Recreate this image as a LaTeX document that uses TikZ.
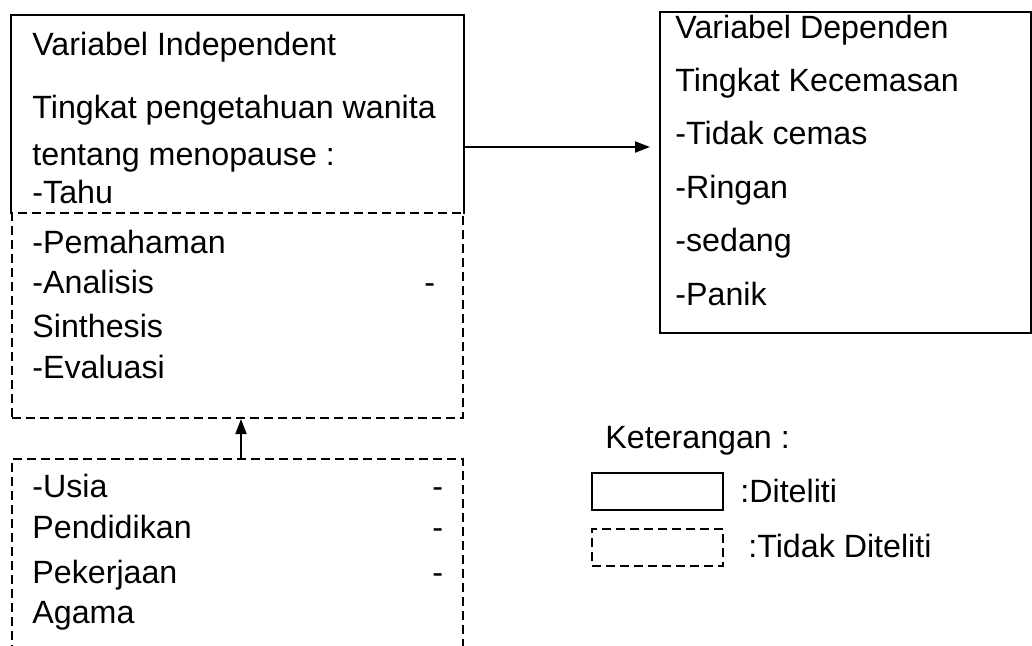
\documentclass[tikz,border=0pt]{standalone}
\usepackage{fontspec}
\setmainfont{Liberation Sans}
\usetikzlibrary{arrows.meta}

\tikzset{
  frame/.style={line width=1pt, anchor=north west, inner sep=0pt},
  solidbox/.style={frame, draw},
  dashbox/.style={frame, draw, dash pattern=on 4.5pt off 2.5pt},
  txt/.style={anchor=base west, inner sep=0pt, font=\fontsize{16.1}{19}\selectfont},
  arr/.style={line width=1pt, -{Triangle[length=7.5pt,width=5.5pt]}},
}

\begin{document}
\begin{tikzpicture}[x=0.5pt,y=-0.5pt]
		%%%%% START %%%%%
		\clip (0,0) rectangle (1032,645);
		
		% boxes
		\node[frame, minimum width=225.5pt, minimum height=98.5pt] (indep) at (11,15) {};
		\draw[line width=1pt] (indep.south west) -- (indep.north west) -- (indep.north east) -- (indep.south east);
		\node[dashbox, minimum width=225.5pt, minimum height=102.5pt] (tahu) at (11,212) {};
		\node[dashbox, minimum width=225.5pt, minimum height=121pt] (factor) at (11,458) {};
		\node[solidbox, minimum width=185.5pt, minimum height=160.5pt] (dep) at (659,11) {};
		
		% arrows
		\coordinate (ay) at (0,147);
		\draw[arr] (indep.east |- ay) -- ([xshift=-4.5pt]dep.west |- ay);
		\draw[arr] ([xshift=1.75pt]factor.north) -- ([xshift=1.75pt]tahu.south);
		
		% independent
		\node[txt] (i1) at (32,55) {Variabel Independent};
		\node[txt] (i2) at (32,118) {Tingkat pengetahuan wanita};
		\node[txt] (i3) at (32,165) {tentang menopause :};
		\node[txt] (i4) at (32,203) {-Tahu};
		
		\node[txt] (p1) at (32,253) {-Pemahaman};
		\node[txt] (p2) at (32,293) {-Analisis};
		\node[txt] (p2d) at (424,293) {-};
		\node[txt] (p3) at (32,337) {Sinthesis};
		\node[txt] (p4) at (32,378) {-Evaluasi};
		
		\node[txt] (f1) at (32,497) {-Usia};
		\node[txt] (f1d) at (432,497) {-};
		\node[txt] (f2) at (32,538) {Pendidikan};
		\node[txt] (f2d) at (432,538) {-};
		\node[txt] (f3) at (32,583) {Pekerjaan};
		\node[txt] (f3d) at (432,583) {-};
		\node[txt] (f4) at (32,623) {Agama};
		
		% dependent
		\foreach \t [count=\i] in {Variabel Dependen, Tingkat Kecemasan, -Tidak cemas, -Ringan, -sedang, -Panik}
			\node[txt] (d\i) at (675, {38+53.4*(\i-1)}) {\t};
		
		% legend
		\node[txt] (ket) at (605,448) {Keterangan :};
		\node[solidbox, minimum width=65.5pt, minimum height=18.5pt] (lsolid) at (591,472) {};
		\node[dashbox, minimum width=65.5pt, minimum height=18.5pt] (ldash) at (591,528) {};
		\node[txt] (lt1) at (740,502) {:Diteliti};
		\node[txt] (lt2) at (748,557) {:Tidak Diteliti};
		%%%%% END %%%%%
\end{tikzpicture}
\end{document}
